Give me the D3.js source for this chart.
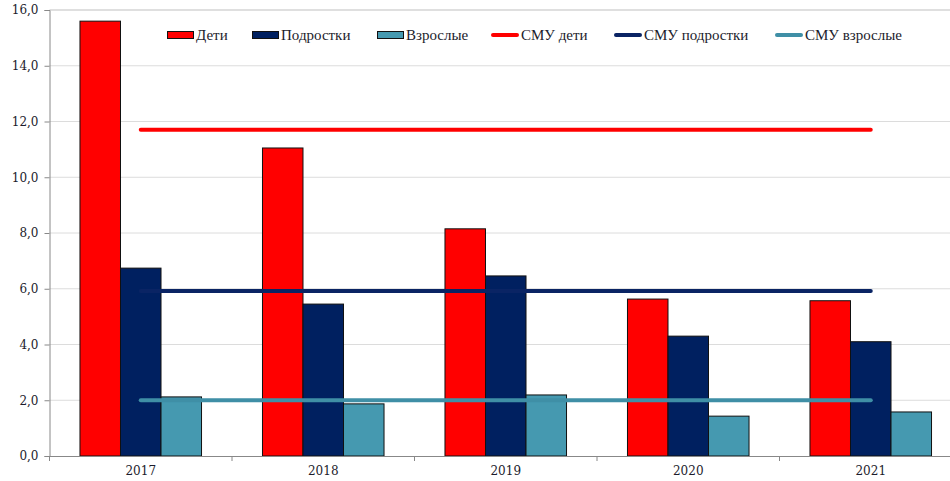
<!DOCTYPE html>
<html><head><meta charset="utf-8">
<script src="https://cdn.jsdelivr.net/npm/d3@7"></script>
<style>body{margin:0;background:#fff}svg{display:block}</style>
</head><body>
<svg id="c" width="950" height="481"></svg>
<script>
const years = ["2017","2018","2019","2020","2021"];
const deti = [15.6, 11.05, 8.15, 5.63, 5.57];
const podrostki = [6.74, 5.45, 6.46, 4.3, 4.1];
const vzroslye = [2.12, 1.87, 2.19, 1.43, 1.58];
const smuDeti = [11.7, 11.7, 11.7, 11.7, 11.7];
const smuPodrostki = [5.92, 5.92, 5.92, 5.92, 5.92];
const smuVzroslye = [2.0, 2.0, 2.0, 2.0, 2.0];
const yTicks = [0, 2, 4, 6, 8, 10, 12, 14, 16];
const barNames = ["Дети", "Подростки", "Взрослые"];
const lineNames = ["СМУ дети", "СМУ подростки", "СМУ взрослые"];

const barColors = ["#FF0000", "#002060", "#4599B0"];
const lineColors = ["#FF0000", "#0A2464", "#3F8FA6"];

const svg = d3.select("#c");
const mLeft = 49.5, mRight = 962, mTop = 10, mBottom = 456;
const x = d3.scaleBand().domain(years).range([mLeft, mRight]);
const y = d3.scaleLinear().domain([0, 16]).range([mBottom, mTop]);
const fmt = d => d.toFixed(1).replace(".", ",");
const axisFont = "DejaVu Serif, serif";
const legFont = "Liberation Serif, Times New Roman, serif";
const txtCol = "#1c1c2c";

// gridlines
svg.append("g").selectAll("line").data(yTicks.filter(d => d > 0)).join("line")
  .attr("x1", mLeft).attr("x2", 950).attr("y1", d => y(d)).attr("y2", d => y(d))
  .attr("stroke", d => d === 16 ? "#d4d4d4" : "#dcdcdc").attr("stroke-width", d => d === 16 ? 1.5 : 1);

// bars
const series = [deti, podrostki, vzroslye];
const bw = x.bandwidth() * 0.222;
const gx = d => x(d) + x.bandwidth() / 2 - bw * 1.5;
series.forEach((vals, si) => {
  svg.append("g").selectAll("rect").data(years).join("rect")
    .attr("x", (d) => gx(d) + si * bw)
    .attr("y", (d, i) => y(vals[i]))
    .attr("width", bw)
    .attr("height", (d, i) => y(0) - y(vals[i]))
    .attr("fill", barColors[si])
    .attr("stroke", "#111").attr("stroke-width", 1);
});

// lines
const lines = [smuDeti, smuPodrostki, smuVzroslye];
lines.forEach((vals, si) => {
  const ln = d3.line().x((d, i) => x(years[i]) + x.bandwidth() / 2).y(d => y(d));
  svg.append("path").datum(vals).attr("d", ln)
    .attr("fill", "none").attr("stroke", lineColors[si]).attr("stroke-width", 4)
    .attr("stroke-linecap", "round");
});

// axes
const ya = svg.append("g").attr("transform", `translate(${mLeft},0)`)
  .call(d3.axisLeft(y).tickValues(yTicks).tickFormat(fmt).tickSizeOuter(0).tickSize(5).tickPadding(6));
ya.select(".domain").attr("stroke", "#888");
ya.selectAll(".tick line").attr("stroke", "#888");
ya.selectAll("text").attr("font-family", axisFont).attr("font-size", 12).attr("fill", txtCol);

const xa = svg.append("g").attr("transform", `translate(0,${mBottom})`)
  .call(d3.axisBottom(x).tickSize(0).tickPadding(10));
xa.select(".domain").attr("stroke", "#888");
xa.selectAll("text").attr("font-family", axisFont).attr("font-size", 12).attr("fill", txtCol);
xa.selectAll(".sep").data(years).join("line").attr("class", "sep")
  .attr("x1", d => x(d)).attr("x2", d => x(d)).attr("y1", 0).attr("y2", 5).attr("stroke", "#888");

// legend
const legX = [167, 252, 377, 491, 614, 775];
const legY = 35;
const lg = svg.append("g");
barNames.forEach((n, i) => {
  lg.append("rect").attr("x", legX[i] + 0.5).attr("y", legY - 3.5).attr("width", 26).attr("height", 7)
    .attr("fill", barColors[i]).attr("stroke", "#111").attr("stroke-width", 1);
  lg.append("text").attr("x", legX[i] + 29).attr("y", legY + 5).text(n)
    .attr("font-family", legFont).attr("font-size", 15).attr("fill", txtCol);
});
lineNames.forEach((n, i) => {
  const lx = legX[i + 3];
  lg.append("line").attr("x1", lx + 2).attr("x2", lx + 26).attr("y1", legY).attr("y2", legY)
    .attr("stroke", lineColors[i]).attr("stroke-width", 4).attr("stroke-linecap", "round");
  lg.append("text").attr("x", lx + 30).attr("y", legY + 5).text(n)
    .attr("font-family", legFont).attr("font-size", 15).attr("fill", txtCol);
});
</script>
</body></html>
